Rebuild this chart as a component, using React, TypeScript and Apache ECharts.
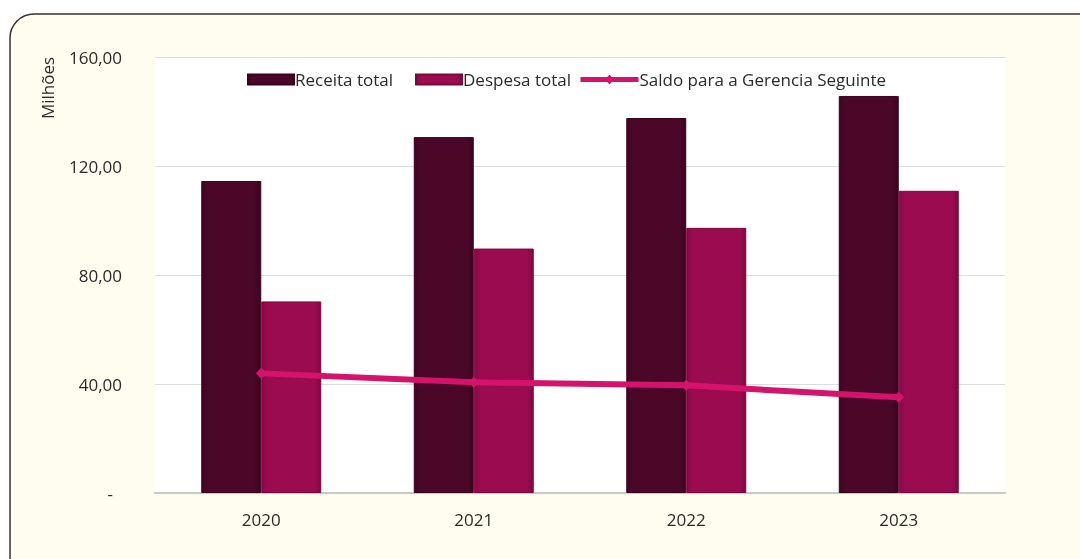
import React, { useEffect, useRef } from "react";
import * as echarts from "echarts";

const categories = ["2020", "2021", "2022", "2023"];
const receitaTotal = [114.5, 130.6, 137.6, 145.7];
const despesaTotal = [70.3, 89.7, 97.3, 110.9];
const saldoGerencia = [43.9, 40.6, 39.5, 35.1];
const yTicks = [0, 40, 80, 120, 160];
const seriesNames = ["Receita total", "Despesa total", "Saldo para a Gerencia Seguinte"];

const FONT = "'Open Sans', 'Noto Sans', sans-serif";
const TXT = "#2a2a2a";

export default function App() {
  const ref = useRef<HTMLDivElement>(null);
  useEffect(() => {
    if (!ref.current) return;
    const chart = echarts.init(ref.current, undefined, { renderer: "svg" });
    const legendBase = {
      top: 66,
      itemWidth: 46,
      itemHeight: 10,
      textStyle: { fontFamily: FONT, fontSize: 17, color: TXT, padding: [0, 0, 0, -4] },
    };
    chart.setOption({
      animation: false,
      backgroundColor: "transparent",
      graphic: [
        {
          type: "rect",
          z: -10,
          shape: { x: 10, y: 14, width: 1100, height: 580, r: 24 },
          style: { fill: "#FFFDF0", stroke: "#3a3030", lineWidth: 1.5 },
        },
        {
          type: "text",
          x: 39,
          y: 119,
          rotation: Math.PI / 2,
          style: {
            text: "Milhões",
            font: `17px ${FONT}`,
            fill: TXT,
          },
        },
      ],
      legend: [
        { ...legendBase, left: 242, icon: "rect", data: [seriesNames[0]] },
        { ...legendBase, left: 410, icon: "rect", data: [seriesNames[1]] },
        {
          ...legendBase,
          left: 573,
          itemWidth: 58,
          itemHeight: 12,
          data: [{ name: seriesNames[2], lineStyle: { width: 5 } }],
        },
      ],
      grid: {
        left: 155,
        right: 75,
        top: 57,
        bottom: 66,
        show: true,
        backgroundColor: "#ffffff",
        borderWidth: 0,
        containLabel: false,
      },
      xAxis: {
        type: "category",
        data: categories,
        axisTick: { show: false },
        axisLine: { lineStyle: { color: "#c8c8c8", width: 2 } },
        axisLabel: { fontFamily: FONT, fontSize: 17, color: TXT, margin: 18 },
      },
      yAxis: {
        type: "value",
        min: yTicks[0],
        max: yTicks[yTicks.length - 1],
        interval: 40,
        splitLine: { lineStyle: { color: "#dcdcdc", width: 1 } },
        axisLine: { show: false },
        axisTick: { show: false },
        axisLabel: {
          fontFamily: FONT,
          fontSize: 17,
          color: TXT,
          margin: 33,
          formatter: (v: number) =>
            v === 0 ? "{d|-}" : v.toFixed(2).replace(".", ","),
          rich: { d: { fontFamily: FONT, fontSize: 17, color: TXT, padding: [0, 9, 0, 0] } },
        },
      },
      series: [
        {
          name: seriesNames[0],
          type: "bar",
          data: receitaTotal,
          barWidth: 60,
          barGap: "0%",
          itemStyle: {
            color: {
              type: "linear", x: 0, y: 0, x2: 1, y2: 0,
              colorStops: [
                { offset: 0, color: "#3f0420" },
                { offset: 0.1, color: "#4a0727" },
                { offset: 0.9, color: "#4a0727" },
                { offset: 1, color: "#3a031d" },
              ],
            },
            borderColor: "#3a031c",
            borderWidth: 1,
          },
        },
        {
          name: seriesNames[1],
          type: "bar",
          data: despesaTotal,
          barWidth: 60,
          barGap: "0%",
          itemStyle: {
            color: {
              type: "linear", x: 0, y: 0, x2: 1, y2: 0,
              colorStops: [
                { offset: 0, color: "#8a0846" },
                { offset: 0.1, color: "#9a0b50" },
                { offset: 0.9, color: "#9a0b50" },
                { offset: 1, color: "#820742" },
              ],
            },
            borderColor: "#7a063e",
            borderWidth: 1,
          },
        },
        {
          name: seriesNames[2],
          type: "line",
          data: saldoGerencia,
          symbol: "diamond",
          symbolSize: 11,
          z: 5,
          lineStyle: { color: "#d4146c", width: 6 },
          itemStyle: { color: "#d4146c" },
        },
      ],
    });
    return () => chart.dispose();
  }, []);
  return (
    <div
      ref={ref}
      style={{ position: "fixed", left: 0, top: 0, width: 1080, height: 559 }}
    />
  );
}
